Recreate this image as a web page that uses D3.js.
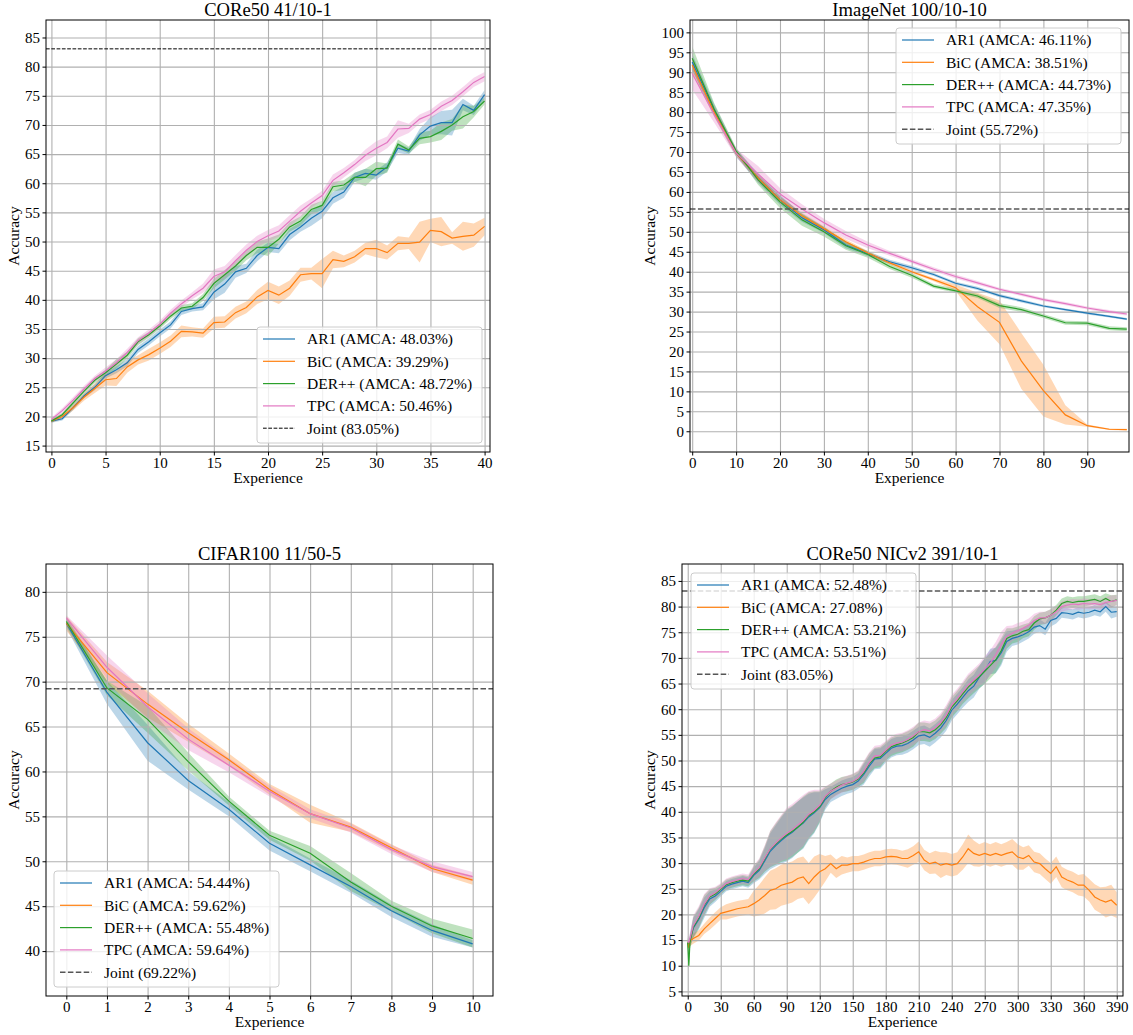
<!DOCTYPE html>
<html lang="en">
<head>
<meta charset="UTF-8">
<title>Accuracy per experience</title>
<script src="https://cdn.jsdelivr.net/npm/d3@7"></script>
<style>
  body { margin: 0; background: #fff; }
  svg text { font-family: 'Liberation Serif', 'DejaVu Serif', serif; fill: #000; }
</style>
</head>
<body>
<div id="chart"></div>
<script>
// ---- data -------------------------------------------------------------
const methods = ['AR1', 'BiC', 'DER++', 'TPC'];

// CORe50 41/10-1
const core50Exp = [0,1,2,3,4,5,6,7,8,9,10,11,12,13,14,15,16,17,18,19,20,21,22,23,24,25,26,27,28,29,30,31,32,33,34,35,36,37,38,39,40];
const core50Ar1 = [19.2,19.6,21.5,23.5,25.0,27.0,28.0,29.2,31.5,32.8,34.3,35.7,38.0,38.5,38.8,41.3,42.7,44.8,45.4,47.6,49.0,48.8,51.2,52.5,54.0,55.2,57.5,58.5,61.0,61.7,61.4,62.8,66.0,65.5,68.3,69.8,70.4,70.4,73.5,72.5,75.2];
const core50Bic = [19.2,20.0,21.5,23.3,24.8,26.3,26.5,28.5,29.7,30.6,31.7,32.9,34.6,34.5,34.3,36.1,36.2,37.8,38.7,40.5,41.6,40.8,42.0,44.3,44.5,44.5,46.9,46.6,47.4,48.8,48.8,48.1,49.7,49.7,49.9,51.9,51.7,50.6,50.9,51.1,52.6];
const core50Der = [19.2,20.3,22.3,24.3,26.2,27.5,29.0,30.5,32.8,34.0,35.5,37.2,38.6,38.9,40.4,42.8,44.3,45.8,47.6,49.0,49.0,50.4,52.5,53.5,55.5,56.2,59.4,59.7,61.0,61.0,62.5,62.6,66.7,65.7,67.7,68.0,68.9,70.0,71.4,72.3,74.1];
const core50Tpc = [19.5,21.0,22.8,24.7,26.5,27.8,29.2,31.0,33.0,34.3,35.8,37.7,39.3,40.7,42.0,44.0,44.8,46.7,48.5,50.0,51.0,51.8,53.5,55.2,56.6,57.9,60.5,61.8,63.2,64.8,66.0,67.0,69.3,69.4,71.0,71.8,73.2,74.2,75.7,77.3,78.3];
const core50Ar1Sd = [0.3,0.3,0.4,0.4,0.5,0.5,0.6,0.6,0.6,0.6,0.6,0.6,0.6,0.5,0.6,1.2,1.5,1.0,0.8,1.0,0.8,0.8,1.0,0.8,1.3,1.2,1.0,1.0,0.8,0.8,0.8,0.8,0.8,0.6,1.0,1.5,2.0,2.2,1.0,0.8,0.8];
const core50BicSd = [0.3,0.4,0.5,0.6,0.8,1.0,1.3,1.0,0.8,1.0,1.0,1.0,1.0,0.8,0.8,1.0,1.0,1.0,1.0,1.2,1.5,1.5,1.3,1.2,1.0,2.5,1.5,1.0,1.0,1.0,1.5,1.2,1.2,1.0,3.5,2.0,2.5,1.0,2.5,2.0,1.5];
const core50DerSd = [0.3,0.3,0.4,0.4,0.5,0.5,0.8,0.6,0.6,0.5,0.5,0.5,0.5,0.5,0.6,0.8,0.8,0.8,0.8,1.0,1.5,0.8,0.8,0.8,0.8,0.8,0.8,0.8,0.8,1.5,1.2,0.8,0.8,0.6,1.0,1.0,1.5,1.0,2.0,1.0,0.6];
const core50TpcSd = [0.3,0.4,0.5,0.5,0.5,0.6,0.6,0.6,0.6,0.6,0.6,0.6,0.6,0.6,0.8,1.2,1.0,1.0,1.0,1.0,1.0,1.0,1.0,1.0,0.8,0.8,1.0,0.8,0.8,1.0,1.2,1.0,1.5,0.8,0.8,0.8,0.8,0.8,0.8,0.8,0.8];
const core50Amca = ['48.03', '39.29', '48.72', '50.46'];
const core50Joint = 83.05;

// ImageNet 100/10-10
const imagenetExp = [0,5,10,15,20,25,30,35,40,45,50,55,60,65,70,75,80,85,90,95,99];
const imagenetAr1 = [92.6,80.5,69.8,63.5,58.0,53.5,50.5,46.7,44.5,42.5,41.0,39.3,37.1,35.8,34.0,32.7,31.4,30.5,29.6,28.8,28.1];
const imagenetBic = [91.8,80.0,69.8,63.5,58.0,54.0,50.8,47.5,44.7,42.2,40.0,38.0,36.0,31.2,27.3,17.6,10.2,4.1,1.4,0.5,0.4];
const imagenetDer = [93.5,80.8,70.3,63.0,57.5,53.0,50.0,46.5,44.3,41.3,39.1,36.4,35.2,33.9,31.5,30.5,28.9,27.2,27.1,25.8,25.6];
const imagenetTpc = [89.7,79.4,69.8,64.5,59.5,55.7,52.3,49.2,46.7,44.6,42.6,40.6,38.8,37.2,35.6,34.3,33.0,32.0,30.9,30.0,29.4];
const imagenetAr1Sd = [2.0,1.5,1.0,1.2,1.2,1.0,0.8,0.8,0.6,0.5,0.5,0.4,0.4,0.4,0.4,0.4,0.3,0.3,0.3,0.3,0.3];
const imagenetBicSd = [2.0,1.2,0.8,0.8,0.8,0.8,0.6,0.6,0.5,0.4,0.4,0.4,0.8,3.5,5.5,7.0,6.5,2.4,0.3,0.2,0.2];
const imagenetDerSd = [3.0,1.5,0.8,1.2,1.5,1.5,1.2,1.0,0.8,0.6,0.6,0.5,0.5,0.5,0.6,0.6,0.5,0.5,0.5,0.5,0.5];
const imagenetTpcSd = [4.0,2.0,1.0,2.0,1.5,1.2,1.0,1.0,0.8,0.6,0.5,0.5,0.5,0.5,0.4,0.4,0.4,0.4,0.4,0.4,0.4];
const imagenetAmca = ['46.11', '38.51', '44.73', '47.35'];
const imagenetJoint = 55.72;

// CIFAR100 11/50-5
const cifarExp = [0,1,2,3,4,5,6,7,8,9,10];
const cifarAr1 = [76.5,68.8,63.2,59.0,55.8,52.0,49.6,47.2,44.5,42.3,40.8];
const cifarBic = [76.5,71.0,67.5,64.3,61.3,58.0,55.3,53.8,51.5,49.2,47.9];
const cifarDer = [76.7,69.3,65.8,61.1,56.7,52.9,50.9,47.7,45.0,42.8,41.4];
const cifarTpc = [77.1,71.6,67.2,63.6,60.7,57.8,55.3,53.7,51.3,49.4,48.3];
const cifarAr1Sd = [0.5,1.3,2.0,1.0,0.8,0.8,0.7,0.7,0.7,0.7,0.4];
const cifarBicSd = [0.8,1.2,1.5,1.0,0.7,0.6,1.0,0.5,0.4,0.4,0.5];
const cifarDerSd = [0.5,0.8,1.5,1.0,0.5,0.5,0.8,1.0,0.6,0.8,1.0];
const cifarTpcSd = [0.3,1.3,1.5,1.2,0.8,0.6,0.5,0.5,0.5,0.6,0.5];
const cifarAmca = ['54.44', '59.62', '55.48', '59.64'];
const cifarJoint = 69.22;

// CORe50 NICv2 391/10-1
const nicExp = [0,1,2,5,10,15,20,25,30,35,40,45,50,55,60,65,70,75,80,85,90,95,100,105,110,115,120,125,130,135,140,145,150,155,160,165,170,175,180,185,190,195,200,205,210,215,220,225,230,235,240,245,250,255,260,265,270,275,280,285,290,295,300,305,310,315,320,325,330,335,340,345,350,355,360,365,370,375,380,385,390];
const nicAr1 = [14.5,14.0,15.0,17.3,19.0,21.3,23.0,23.6,24.5,25.5,25.9,26.2,26.5,26.2,27.6,28.6,30.4,32.3,33.4,34.4,35.3,36.0,37.0,37.8,39.0,39.8,40.8,42.4,43.4,44.0,44.6,45.0,45.3,46.0,47.3,48.9,50.3,50.4,51.4,52.4,52.8,52.9,53.3,54.0,54.8,55.0,54.5,55.3,56.3,57.8,59.8,61.0,62.3,63.6,64.5,66.2,67.5,69.3,69.5,71.0,73.2,73.8,74.1,74.5,75.1,76.0,76.3,75.6,77.3,77.7,78.8,78.7,78.5,78.9,78.7,78.9,79.3,79.0,80.0,78.9,79.0];
const nicBic = [14.5,13.5,14.8,15.3,15.9,17.2,18.2,19.2,20.2,20.5,20.8,21.1,21.3,21.5,22.1,22.8,23.7,24.7,25.0,25.7,26.0,26.3,27.0,27.3,26.0,27.3,28.3,28.9,29.9,28.9,29.6,29.6,29.9,29.9,30.2,30.6,30.9,30.9,31.2,31.3,31.2,30.9,30.9,31.5,32.2,30.6,29.9,30.2,29.6,29.9,29.6,29.9,31.2,32.8,31.9,31.5,31.9,31.5,31.9,31.5,31.9,32.2,31.2,30.9,31.5,30.2,29.9,28.9,28.0,29.3,27.3,26.7,26.3,25.7,25.7,24.7,23.4,22.8,22.4,22.8,21.8];
const nicDer = [14.5,10.0,14.5,17.5,19.3,21.8,23.4,24.0,24.9,25.8,26.2,26.5,26.7,26.5,27.9,28.9,30.8,32.7,33.7,34.7,35.5,36.2,37.0,38.0,39.3,40.0,41.0,42.8,44.0,44.8,45.3,45.5,45.8,46.4,47.6,49.4,50.5,50.7,51.8,52.7,53.1,53.4,53.9,54.5,55.6,55.6,55.4,56.0,57.0,58.4,60.4,61.6,63.0,64.3,65.3,66.3,67.4,68.5,69.6,71.4,73.8,74.3,74.6,75.2,75.5,76.8,77.6,77.8,78.3,79.3,80.6,81.0,80.8,81.0,81.0,81.2,81.4,81.0,81.6,81.0,81.3];
const nicTpc = [14.8,14.6,15.2,17.8,19.6,22.0,23.6,24.2,25.1,26.0,26.4,26.7,27.0,26.8,28.1,29.1,31.0,32.8,33.9,34.9,35.8,36.5,37.4,38.3,39.5,40.3,41.3,43.0,44.0,44.6,45.2,45.6,45.9,46.6,47.9,49.6,50.9,51.0,52.0,53.0,53.4,53.6,54.1,54.8,55.6,56.0,55.8,56.4,57.4,58.8,60.8,62.0,63.4,64.7,65.7,66.7,67.8,69.0,70.6,72.6,74.2,74.8,75.3,75.8,76.4,77.3,77.8,77.8,78.3,79.0,80.0,80.3,80.5,80.4,80.6,80.5,80.6,80.4,80.8,81.0,81.2];
const nicMainSd = [1.0,1.0,1.2,2.0,2.0,2.0,1.5,1.2,1.0,1.0,1.0,1.0,1.0,1.0,1.5,1.8,2.5,3.5,4.0,4.5,5.0,5.0,5.0,5.0,4.5,4.0,3.0,2.0,1.5,1.5,1.5,1.5,1.5,1.5,2.0,2.0,2.0,2.0,1.8,1.8,1.8,1.8,1.8,1.8,1.8,1.8,1.8,1.8,1.8,2.0,2.0,2.0,2.0,2.2,2.2,2.2,2.5,2.5,2.5,2.5,2.0,1.5,1.5,1.3,1.3,1.3,1.2,1.2,1.2,1.0,1.0,1.0,1.0,1.0,1.0,1.0,1.0,1.0,1.0,1.2,1.0];
const nicBicSd = [0.8,1.0,1.0,1.0,1.0,1.0,1.2,1.2,1.2,1.5,1.5,1.5,1.5,1.5,2.5,3.0,3.5,3.8,4.0,4.0,4.0,4.0,4.0,4.0,4.0,4.0,3.5,2.5,1.8,1.8,1.8,1.5,1.5,1.5,1.5,1.5,1.5,1.5,1.5,1.5,1.5,1.5,1.8,1.8,2.0,2.0,2.0,2.2,2.5,2.2,2.2,2.2,2.5,2.8,2.5,2.2,2.2,2.2,2.2,2.2,2.2,2.5,2.5,2.2,2.0,2.0,2.0,2.0,2.0,2.0,2.0,2.0,2.0,2.0,2.2,2.2,2.5,2.5,3.0,3.0,2.5];
const nicAmca = ['52.48', '27.08', '53.21', '53.51'];
const nicJoint = 83.05;

// tick labels
const core50XTicks = [0,5,10,15,20,25,30,35,40];
const core50YTicks = [15,20,25,30,35,40,45,50,55,60,65,70,75,80,85];
const imagenetXTicks = [0,10,20,30,40,50,60,70,80,90];
const imagenetYTicks = [0,5,10,15,20,25,30,35,40,45,50,55,60,65,70,75,80,85,90,95,100];
const cifarXTicks = [0,1,2,3,4,5,6,7,8,9,10];
const cifarYTicks = [40,45,50,55,60,65,70,75,80];
const nicXTicks = [0,30,60,90,120,150,180,210,240,270,300,330,360,390];
const nicYTicks = [5,10,15,20,25,30,35,40,45,50,55,60,65,70,75,80,85];

// ---- styling / layout -------------------------------------------------
const colors = ['#1f77b4', '#ff7f0e', '#2ca02c', '#e377c2'];
const W = 1133, H = 1035;

const panels = [
  { title: 'CORe50 41/10-1', left: 46, right: 490, top: 20, bottom: 452,
    xDomain: [-0.5, 40.5], yDomain: [13.9, 88.0], xTicks: core50XTicks, yTicks: core50YTicks,
    xs: core50Exp, values: [core50Ar1, core50Bic, core50Der, core50Tpc],
    spreads: [core50Ar1Sd, core50BicSd, core50DerSd, core50TpcSd],
    amca: core50Amca, joint: core50Joint, legend: [257, 327], ylabelGap: 27,
    jointColor: '#000', jointWidth: 1, jointDash: '3.7,1.6' },
  { title: 'ImageNet 100/10-10', left: 690, right: 1129, top: 20, bottom: 452,
    xDomain: [-0.5, 99.5], yDomain: [-5.2, 103.1], xTicks: imagenetXTicks, yTicks: imagenetYTicks,
    xs: imagenetExp, values: [imagenetAr1, imagenetBic, imagenetDer, imagenetTpc],
    spreads: [imagenetAr1Sd, imagenetBicSd, imagenetDerSd, imagenetTpcSd],
    amca: imagenetAmca, joint: imagenetJoint, legend: [896, 28], ylabelGap: 35,
    jointColor: '#555', jointWidth: 1.5, jointDash: '5.5,2.4' },
  { title: 'CIFAR100 11/50-5', left: 46, right: 493, top: 564, bottom: 996,
    xDomain: [-0.5, 10.5], yDomain: [35.0, 83.1], xTicks: cifarXTicks, yTicks: cifarYTicks,
    xs: cifarExp, values: [cifarAr1, cifarBic, cifarDer, cifarTpc],
    spreads: [cifarAr1Sd, cifarBicSd, cifarDerSd, cifarTpcSd],
    amca: cifarAmca, joint: cifarJoint, legend: [54, 871], ylabelGap: 27,
    jointColor: '#555', jointWidth: 1.5, jointDash: '5.5,2.4' },
  { title: 'CORe50 NICv2 391/10-1', left: 682, right: 1123, top: 564, bottom: 996,
    xDomain: [-5.2, 395.7], yDomain: [4.1, 88.3], xTicks: nicXTicks, yTicks: nicYTicks,
    xs: nicExp, values: [nicAr1, nicBic, nicDer, nicTpc],
    spreads: [nicMainSd, nicBicSd, nicMainSd, nicMainSd],
    amca: nicAmca, joint: nicJoint, legend: [691, 573], ylabelGap: 27,
    jointColor: '#555', jointWidth: 1.5, jointDash: '5.5,2.4' }
];

const svg = d3.select('#chart').append('svg')
  .attr('width', W).attr('height', H);
const defs = svg.append('defs');

panels.forEach(drawPanel);

function drawPanel(p, idx) {
  const x = d3.scaleLinear().domain(p.xDomain).range([p.left, p.right]);
  const y = d3.scaleLinear().domain(p.yDomain).range([p.bottom, p.top]);
  const w = p.right - p.left, h = p.bottom - p.top;
  const g = svg.append('g');

  const clipId = 'clip' + idx;
  defs.append('clipPath').attr('id', clipId).append('rect')
    .attr('x', p.left).attr('y', p.top).attr('width', w).attr('height', h);

  const rows = p.values.map((vals, i) =>
    p.xs.map((xv, j) => ({ x: xv, y: vals[j], e: p.spreads[i][j] })));

  // bands (under the grid, like matplotlib)
  const bands = g.append('g').attr('clip-path', `url(#${clipId})`);
  const area = d3.area().x(d => x(d.x)).y0(d => y(d.y - d.e)).y1(d => y(d.y + d.e));
  rows.forEach((r, i) => {
    bands.append('path').datum(r).attr('d', area)
      .attr('fill', colors[i]).attr('fill-opacity', 0.3);
  });

  // grid
  g.append('g').attr('transform', `translate(0,${p.bottom})`)
    .call(d3.axisBottom(x).tickValues(p.xTicks).tickSize(-h).tickFormat(''))
    .call(a => a.select('.domain').remove())
    .selectAll('line').attr('stroke', '#b0b0b0').attr('stroke-width', 1.1);
  g.append('g').attr('transform', `translate(${p.left},0)`)
    .call(d3.axisLeft(y).tickValues(p.yTicks).tickSize(-w).tickFormat(''))
    .call(a => a.select('.domain').remove())
    .selectAll('line').attr('stroke', '#b0b0b0').attr('stroke-width', 1.1);

  // lines
  const lines = g.append('g').attr('clip-path', `url(#${clipId})`);
  const line = d3.line().x(d => x(d.x)).y(d => y(d.y));
  rows.forEach((r, i) => {
    lines.append('path').datum(r).attr('d', line)
      .attr('fill', 'none').attr('stroke', colors[i]).attr('stroke-width', 1.2);
  });

  // joint training reference
  lines.append('line')
    .attr('x1', p.left).attr('x2', p.right)
    .attr('y1', y(p.joint)).attr('y2', y(p.joint))
    .attr('stroke', p.jointColor).attr('stroke-width', p.jointWidth)
    .attr('stroke-dasharray', p.jointDash);

  // frame
  g.append('rect').attr('x', p.left).attr('y', p.top).attr('width', w).attr('height', h)
    .attr('fill', 'none').attr('stroke', '#000').attr('stroke-width', 1);

  // axes
  const xAxis = g.append('g').attr('transform', `translate(0,${p.bottom})`)
    .call(d3.axisBottom(x).tickValues(p.xTicks).tickSize(3.5).tickPadding(1.5));
  const yAxis = g.append('g').attr('transform', `translate(${p.left},0)`)
    .call(d3.axisLeft(y).tickValues(p.yTicks).tickSize(3.5).tickPadding(2.5));
  [xAxis, yAxis].forEach(a => {
    a.select('.domain').remove();
    a.selectAll('line').attr('stroke', '#000');
    a.selectAll('text').style('font-size', '15px')
      .style('font-family', "'Liberation Serif', 'DejaVu Serif', serif");
  });

  // title and axis labels
  g.append('text').attr('x', (p.left + p.right) / 2).attr('y', p.top - 4.5)
    .attr('text-anchor', 'middle').style('font-size', '18.6px').text(p.title);
  g.append('text').attr('x', (p.left + p.right) / 2).attr('y', p.bottom + 31)
    .attr('text-anchor', 'middle').style('font-size', '15.5px').text('Experience');
  g.append('text')
    .attr('transform', `translate(${p.left - p.ylabelGap},${(p.top + p.bottom) / 2}) rotate(-90)`)
    .attr('text-anchor', 'middle').style('font-size', '15.5px').text('Accuracy');

  // legend
  const [lx, ly] = p.legend;
  const lg = g.append('g').attr('transform', `translate(${lx},${ly})`);
  lg.append('rect').attr('width', 225).attr('height', 116).attr('rx', 3)
    .attr('fill', '#fff').attr('fill-opacity', 0.8)
    .attr('stroke', '#cccccc').attr('stroke-width', 1);
  const entries = methods.map((m, i) => ({
    label: `${m} (AMCA: ${p.amca[i]}%)`, color: colors[i], dash: null, width: 1.2 }));
  entries.push({ label: `Joint (${p.joint.toFixed(2)}%)`, color: p.jointColor,
    dash: p.jointDash, width: p.jointWidth });
  entries.forEach((e, i) => {
    const cy = 12 + i * 22.3;
    lg.append('line').attr('x1', 6).attr('x2', 38).attr('y1', cy).attr('y2', cy)
      .attr('stroke', e.color).attr('stroke-width', e.width)
      .attr('stroke-dasharray', e.dash);
    lg.append('text').attr('x', 50).attr('y', cy).attr('dy', '0.35em')
      .style('font-size', '15.5px').text(e.label);
  });
}
</script>
</body>
</html>
